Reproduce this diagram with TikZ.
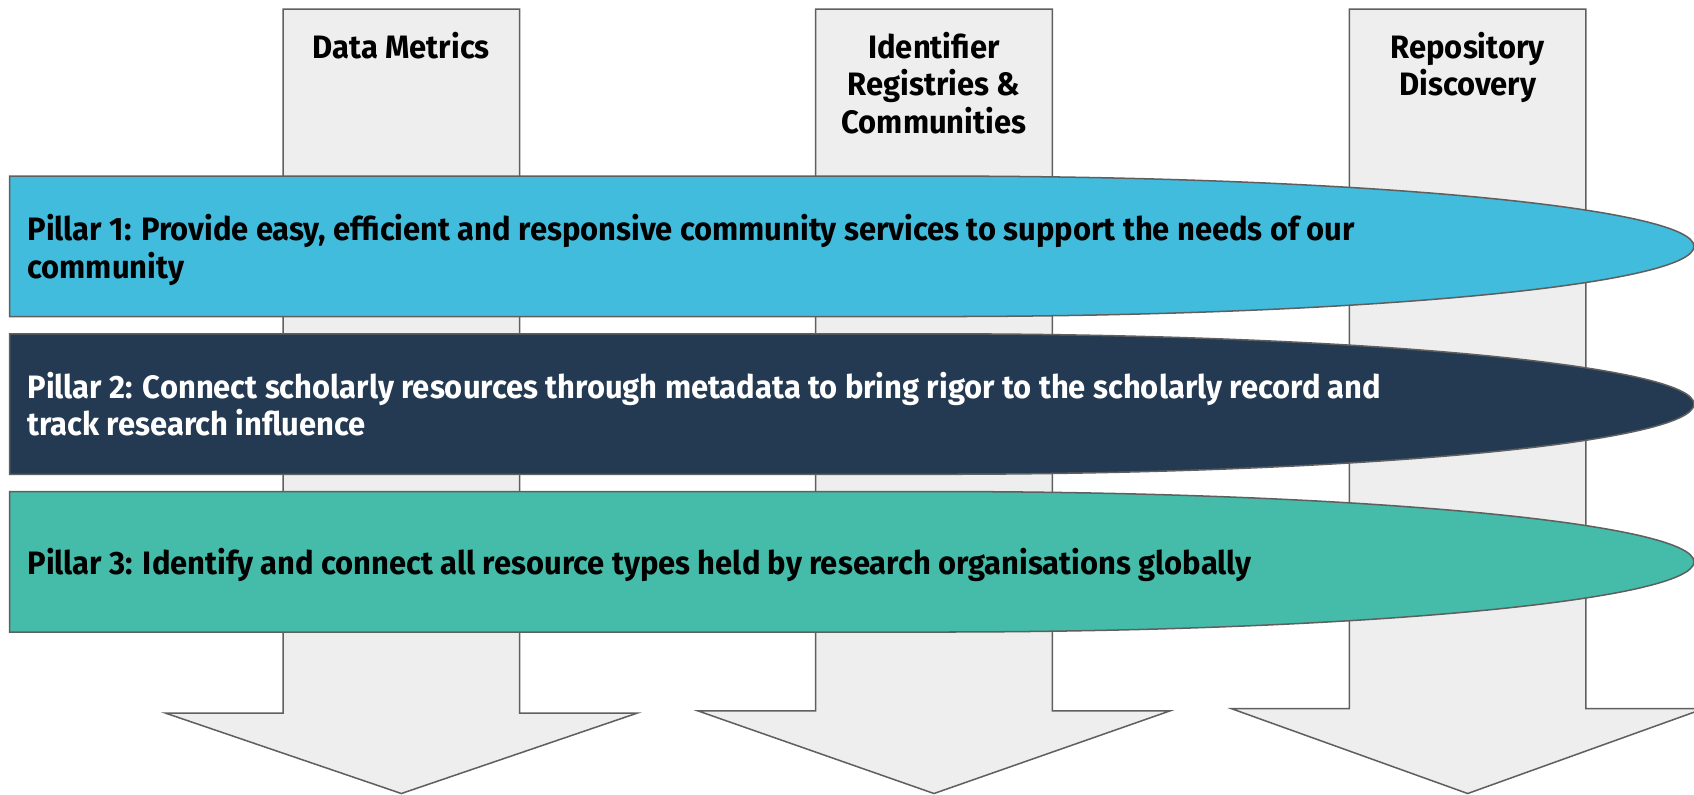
\documentclass[tikz,border=0pt]{standalone}
\usepackage{fontspec}
\setmainfont{Fira Sans}[FakeStretch=0.955]
\definecolor{pillarblue}{HTML}{41BCDC}
\definecolor{pillarnavy}{HTML}{243A52}
\definecolor{pillarteal}{HTML}{45BCA9}
\definecolor{arrowgray}{HTML}{EEEEEE}
\definecolor{edgegray}{HTML}{5F5F5F}
\begin{document}
\begin{tikzpicture}[
	x=0.5pt, y=0.5pt,
	font=\bfseries\fontsize{15pt}{17.5pt}\selectfont
]
\tikzset{
    arrowbox/.style = {fill=arrowgray, draw=edgegray, line width=0.7pt, line join=miter},
    pillarb/.style = {fill=pillarblue, draw=edgegray, line width=0.7pt},
    pillarn/.style = {fill=pillarnavy, draw=edgegray, line width=0.7pt},
    pillart/.style = {fill=pillarteal, draw=edgegray, line width=0.7pt},
    headtext/.style = {anchor=north, align=center, inner sep=0pt},
    pillartext/.style = {anchor=west, align=left, inner sep=0pt},
}
\useasboundingbox (0,0) rectangle (1568,735);
\clip (0,0) rectangle (1568,735);
% the three arrows
\draw[arrowbox] (262,726.5) -- (481,726.5) -- (481,75) -- (590,75) -- (371.5,0.5) -- (153,75) -- (262,75) -- cycle;
\draw[arrowbox] (755,726.5) -- (974,726.5) -- (974,77) -- (1083,77) -- (864.5,0.5) -- (646,77) -- (755,77) -- cycle;
\draw[arrowbox] (1249,726.5) -- (1468,726.5) -- (1468,79) -- (1577,79) -- (1358.5,0.5) -- (1140,79) -- (1249,79) -- cycle;
%
\node[headtext] at (371.5,706) (dm) {Data Metrics};
\node[headtext] at (864.5,706) (irc) {Identifier\\Registries \&\\Communities};
\node[headtext] at (1358.5,706) (rd) {Repository\\Discovery};
% the three pillars
\draw[pillarb] (9,572) -- (868,572) arc[start angle=90, end angle=-90, x radius=350pt, y radius=32.5pt] -- (9,442) -- cycle;
\draw[pillarn] (9,426) -- (868,426) arc[start angle=90, end angle=-90, x radius=350pt, y radius=32.5pt] -- (9,296) -- cycle;
\draw[pillart] (9,280) -- (868,280) arc[start angle=90, end angle=-90, x radius=350pt, y radius=32.5pt] -- (9,150) -- cycle;
%
\node[pillartext] at (25,504) (p1) {Pillar 1: Provide easy, efficient and responsive community services to support the needs of our\\community};
\node[pillartext, text=white] at (25,361) (p2) {Pillar 2: Connect scholarly resources through metadata to bring rigor to the scholarly record and\\track research influence};
\node[pillartext] at (25,212) (p3) {Pillar 3: Identify and connect all resource types held by research organisations globally};
\end{tikzpicture}
\end{document}
